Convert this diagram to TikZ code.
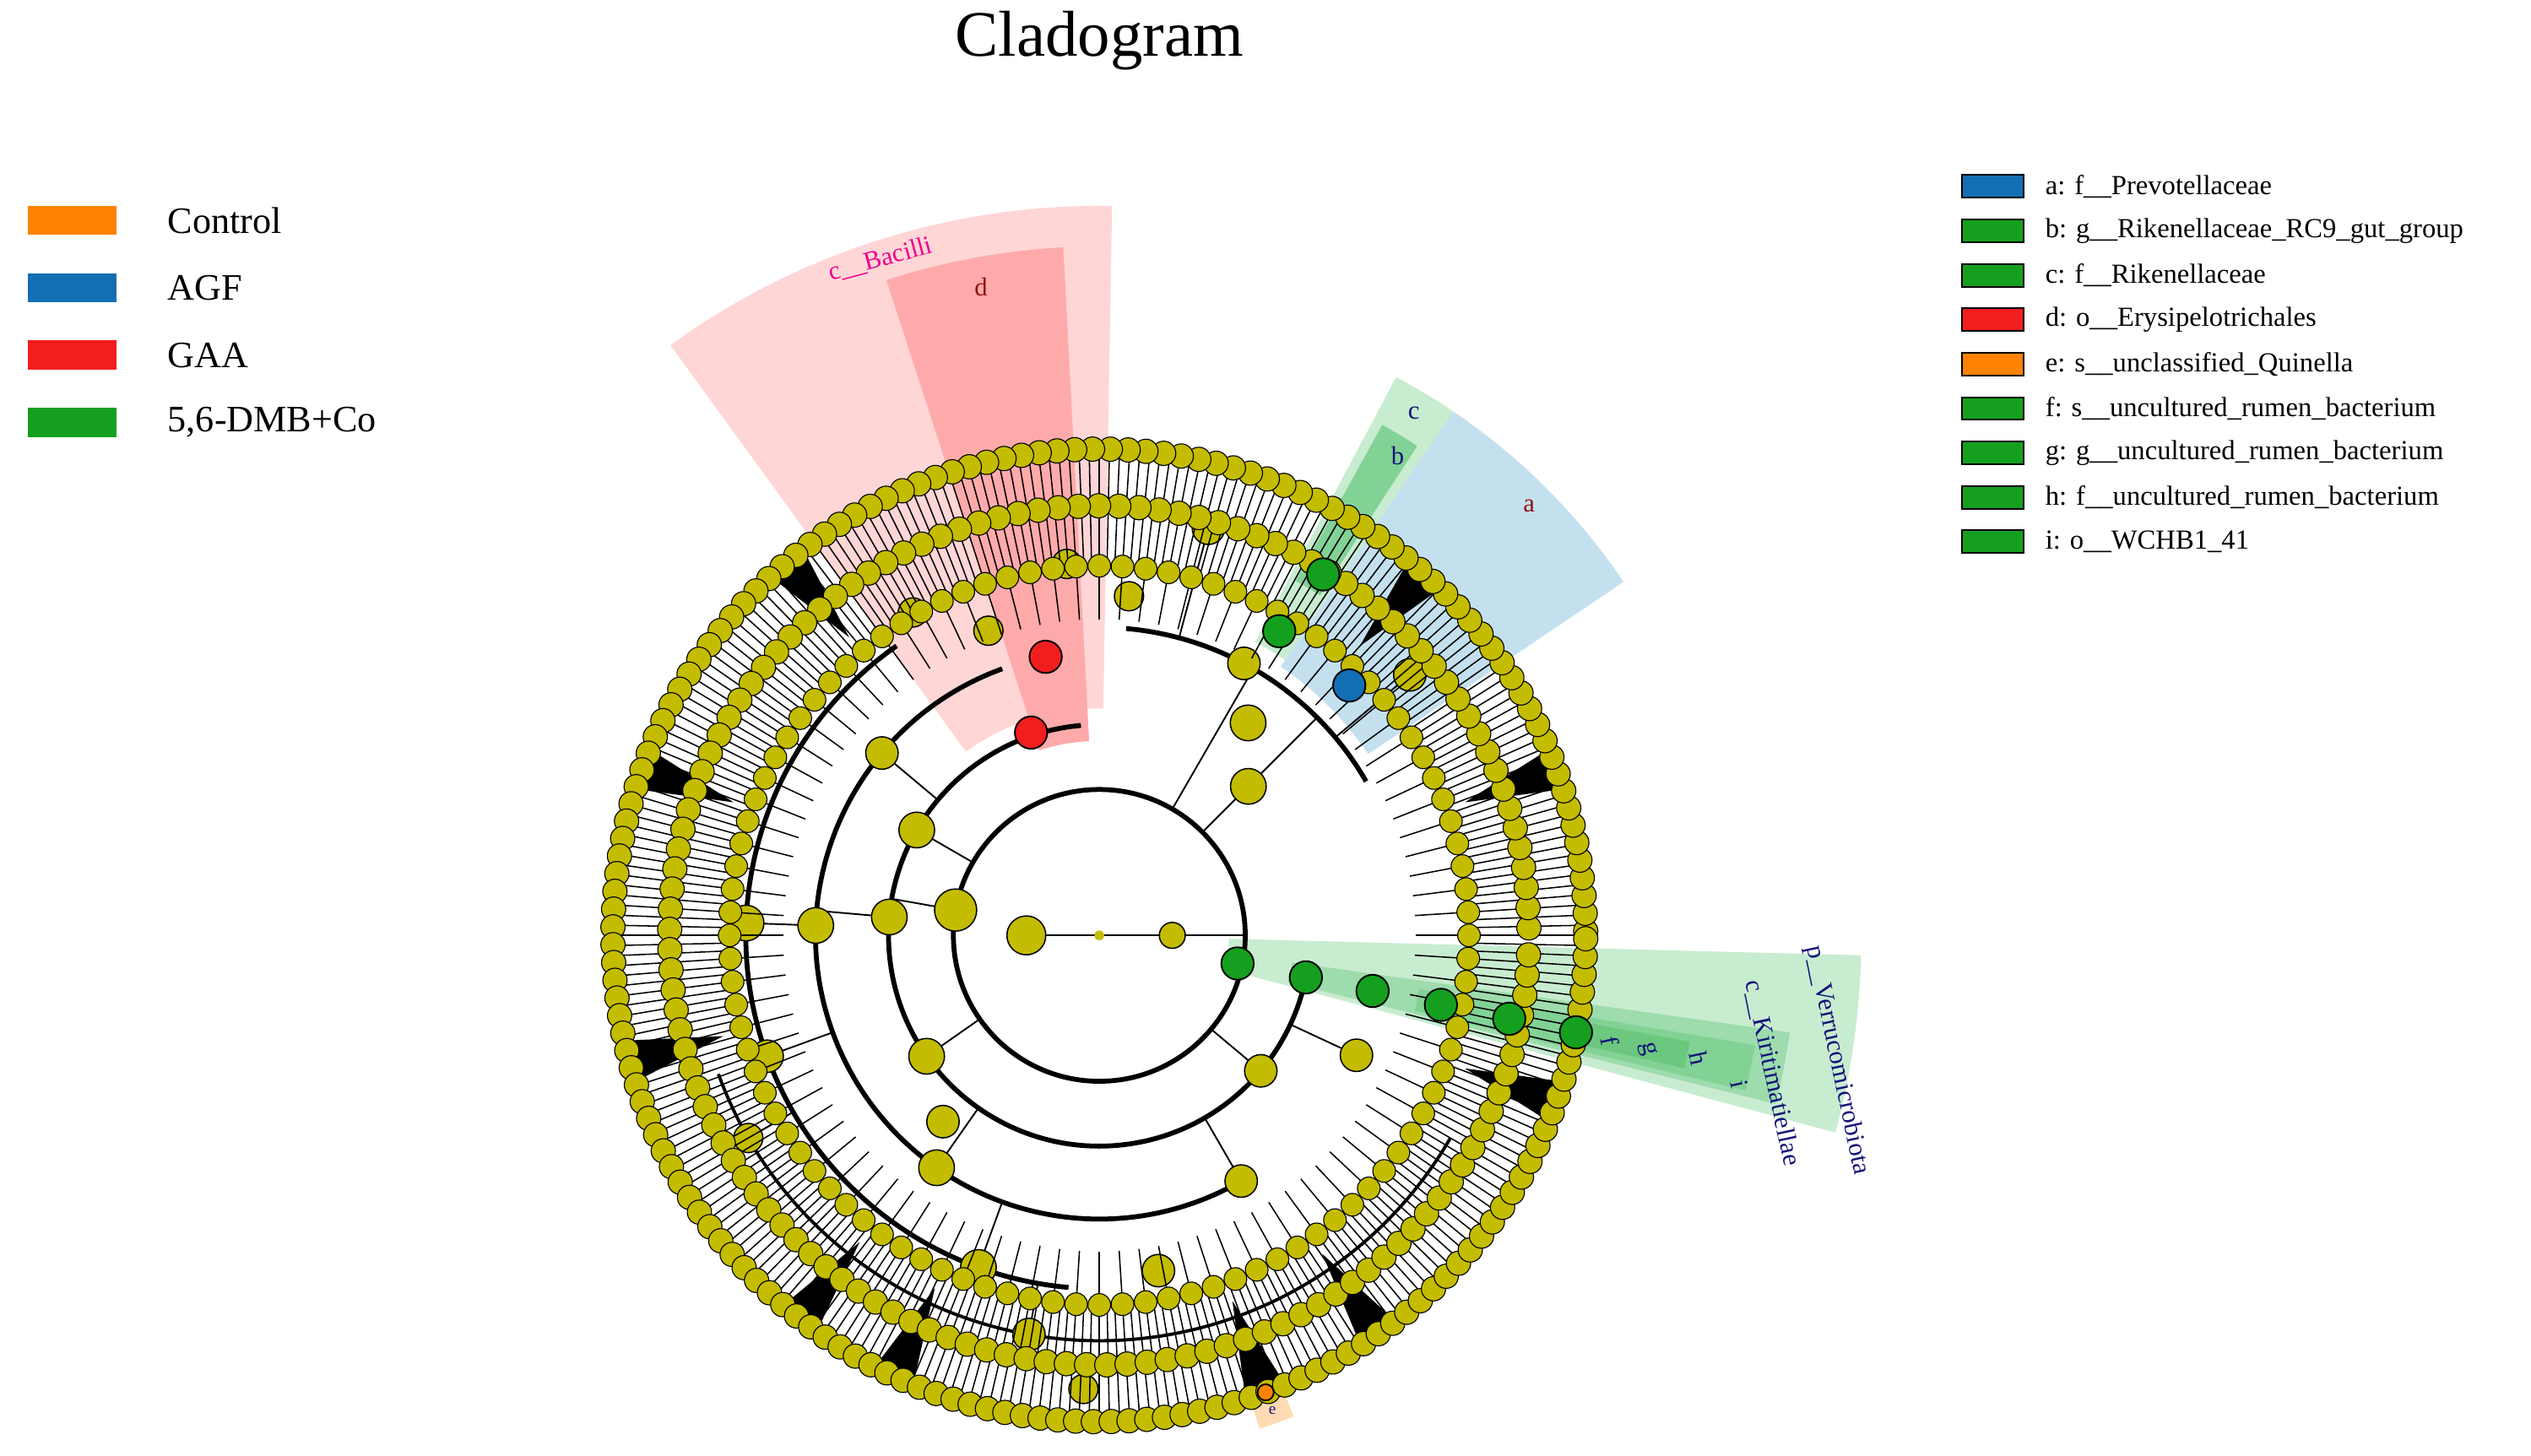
\documentclass[tikz,border=0pt]{standalone}
\usepackage{fontspec}
\setmainfont{Liberation Serif}
\definecolor{yel}{RGB}{196,188,0}
\definecolor{pinkl}{RGB}{255,214,214}
\definecolor{pinkd}{RGB}{255,170,170}
\definecolor{bluel}{RGB}{196,224,238}
\definecolor{greenl}{RGB}{200,236,208}
\definecolor{greenm}{RGB}{130,210,150}
\definecolor{gnode}{RGB}{20,160,30}
\definecolor{bnode}{RGB}{20,110,180}
\definecolor{rnode}{RGB}{240,30,30}
\definecolor{onode}{RGB}{255,130,0}
\definecolor{navy}{RGB}{20,20,120}
\tikzset{
 dot/.style={fill=yel,draw=black,line width=0.6pt},
 big/.style={fill=yel,draw=black,line width=0.8pt},
 lg/.style={draw=black,line width=1pt},
 lab/.style={font=\fontsize{16}{16}\selectfont},
}
\begin{document}
\begin{tikzpicture}[x=1pt,y=1pt]
\useasboundingbox (0,0) rectangle (1561,-898);
\node (title) at (678,-25) {\fontsize{40}{40}\selectfont Cladogram};
% left legend
\foreach \c/\t [count=\i] in {onode/Control,bnode/AGF,rnode/GAA,gnode/{5,6-DMB+Co}}{
  \fill[\c] (17,{-127-41.5*(\i-1)}) rectangle (72,{-145-41.5*(\i-1)});
  \node[anchor=west,font=\fontsize{23}{23}\selectfont] at (100,{-136-41.5*(\i-1)}) {\t};
}
% right legend
\foreach \c/\t [count=\i] in {bnode/{a: f\_\_Prevotellaceae},gnode/{b: g\_\_Rikenellaceae\_RC9\_gut\_group},gnode/{c: f\_\_Rikenellaceae},rnode/{d: o\_\_Erysipelotrichales},onode/{e: s\_\_unclassified\_Quinella},gnode/{f: s\_\_uncultured\_rumen\_bacterium},gnode/{g: g\_\_uncultured\_rumen\_bacterium},gnode/{h: f\_\_uncultured\_rumen\_bacterium},gnode/{i: o\_\_WCHB1\_41}}{
  \filldraw[fill=\c,lg] (1210,{-108-27.4*(\i-1)}) rectangle (1248,{-122-27.4*(\i-1)});
  \node[anchor=west,font=\fontsize{17}{17}\selectfont] at (1258,{-115-27.4*(\i-1)}) {\t};
}
\begin{scope}[shift={(678,-577)}]
% highlight sectors
\fill[pinkl] (89:140) arc(89:126:140) -- (126:450) arc(126:89:450) -- cycle;
\fill[pinkd] (93:120) arc(93:108:120) -- (108:425) arc(108:93:425) -- cycle;
\fill[bluel] (34:200) arc(34:56:200) -- (56:390) arc(56:34:390) -- cycle;
\fill[greenl] (56:205) arc(56:62:205) -- (62:390) arc(62:56:390) -- cycle;
\fill[greenm] (57:250) arc(57:61:250) -- (61:360) arc(61:57:360) -- cycle;
\fill[greenl] (-15:80) arc(-15:-1.5:80) -- (-1.5:470) arc(-1.5:-15:470) -- cycle;
\fill[greenm!60!greenl] (-14:120) arc(-14:-8:120) -- (-8:430) arc(-8:-14:430) -- cycle;
\fill[greenm] (-13.5:200) arc(-13.5:-9.5:200) -- (-9.5:410) arc(-9.5:-13.5:410) -- cycle;
\fill[greenm!80!gnode] (-12.8:290) arc(-12.8:-10.2:290) -- (-10.2:370) arc(-10.2:-12.8:370) -- cycle;
\fill[onode!30] (-72:285) arc(-72:-68:285) -- (-68:320) arc(-68:-72:320) -- cycle;
% inner arcs
\draw[line width=3pt] (0,0) circle(90);
\draw[line width=3pt] (95:130) arc(95:345:130);
\draw[line width=3pt] (110:175) arc(110:300:175);
\draw[line width=3pt] (125:218) arc(125:265:218);
\draw[line width=3pt] (30:190) arc(30:85:190);
\draw[line width=2pt] (200:250) arc(200:330:250);
% radial inner spokes
\foreach \a/\r/\s in {180/0/45,0/0/90,170/90/130,175/130/175,178/175/218,150/90/130,140/130/175,215/90/130,235/130/175,250/175/218,200/175/218,210/218/250,260/218/250,300/130/175,320/90/130,45/90/190,60/90/190,75/190/260,40/190/260,-25/130/175}{
  \draw[line width=1pt] (\a:\r) -- (\a:\s);
}
\foreach \a/\r/\s in {180/45/12,0/45/8,170/90/13,175/130/11,178/175/11,178/218/11,150/130/11,140/175/10,215/130/11,235/175/11,250/218/11,200/218/10,210/250/9,260/250/10,300/175/10,320/130/10,45/130/11,55/160/11,62/190/10,75/260/10,40/250/10,-25/175/10,110/200/9,120/230/9,95/230/9,85/210/9,268/280/9,280/210/10,230/150/10}{
  \filldraw[big] (\a:\r) circle(\s);
}
% leaf lines
\foreach \a in {0,1.2,...,359}{ \draw[line width=0.8pt] (\a:228) -- (\a:300); }
\foreach \a in {0,3.6,...,359}{ \draw[line width=0.8pt] (\a:195) -- (\a:228); }
% black wedges
\foreach \a in {20,130,160,195,232,245,290,305,340,48}{
  \fill[black] (\a:240) -- ({\a-2.5}:300) -- ({\a+2.5}:300) -- cycle;
}
% node rings
\foreach \a in {0,3.6,...,359}{ \filldraw[dot] (\a:228) circle(7); }
\foreach \a in {1,3.7,...,360}{ \filldraw[dot] (\a:265) circle(7.5); }
\foreach \a in {0.5,2.6,...,360}{ \filldraw[dot] (\a:300) circle(7.5); }
\fill[yel] (0,0) circle(3);
% colored nodes
\foreach \r in {87,130,172,215,258,300}{ \filldraw[fill=gnode,lg] (-11.5:\r) circle(10); }
\filldraw[fill=gnode,lg] (59.4:218) circle(10);
\filldraw[fill=gnode,lg] (58.2:262) circle(10);
\filldraw[fill=bnode,lg] (45:218) circle(10);
\filldraw[fill=rnode,lg] (108.6:132) circle(10);
\filldraw[fill=rnode,lg] (100.9:175) circle(10);
\filldraw[fill=onode,lg] (-70:300) circle(5);
% labels
\node[lab,text=magenta,rotate=15] at (-135,417) {c\_\_Bacilli};
\node[lab,text=rnode!60!black] at (-73,400) {d};
\node[lab,text=rnode!60!black] at (265,265) {a};
\node[lab,text=navy] at (194,322) {c};
\node[lab,text=navy] at (184,296) {b};
\node[lab,text=navy,rotate=-78] at (455,-77) {p\_\_Verrucomicrobiota};
\node[lab,text=navy,rotate=-78] at (415,-85) {c\_\_Kiritimatiellae};
\node[lab,text=navy,rotate=-78] at (395,-92) {i};
\node[lab,text=navy,rotate=-78] at (370,-76) {h};
\node[lab,text=navy,rotate=-78] at (338,-70) {g};
\node[lab,text=navy,rotate=-78] at (315,-65) {f};
\node[font=\fontsize{10}{10}\selectfont,text=navy] at (-70:312) {e};
\end{scope}
\end{tikzpicture}
\end{document}
